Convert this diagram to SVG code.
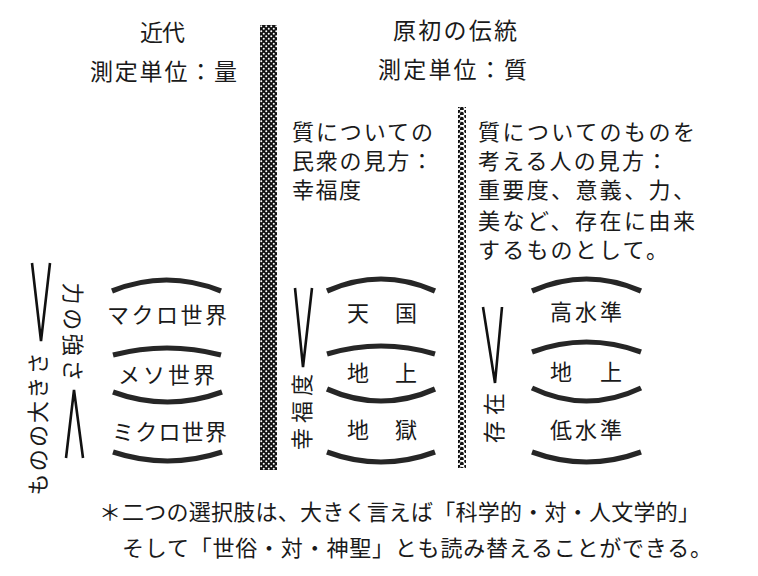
<svg xmlns="http://www.w3.org/2000/svg" width="758" height="576" viewBox="0 0 758 576">
<defs>
<pattern id="chk" width="5" height="5" patternUnits="userSpaceOnUse">
<rect width="5" height="5" fill="#111"/>
<circle cx="1.25" cy="1.25" r="1.0" fill="#fff"/>
<circle cx="3.75" cy="3.75" r="1.0" fill="#fff"/>
</pattern>
<pattern id="chk2" width="8" height="5" patternUnits="userSpaceOnUse">
<rect width="8" height="5" fill="#fff"/>
<circle cx="2.2" cy="1.25" r="2" fill="#111"/>
<circle cx="5.8" cy="3.75" r="2" fill="#111"/>
</pattern>
<style>
text{font-family:"Noto Sans CJK JP","Noto Sans CJK SC",sans-serif;font-size:22px;fill:#1a1a1a}
.hd{font-size:23px}
.arc{fill:none;stroke:#262626;stroke-width:5.2}
.v{fill:none;stroke:#111;stroke-width:2.6;stroke-linejoin:miter}
.bar{fill:url(#chk)}
</style>
</defs>
<rect width="758" height="576" fill="#fff"/>

<g id="header-modern">
<text class="hd" x="140" y="41" textLength="45" lengthAdjust="spacing">近代</text>
<text class="hd" x="90" y="80" textLength="147" lengthAdjust="spacing">測定単位：量</text>
</g>
<g id="header-tradition">
<text class="hd" x="393" y="39" textLength="124" lengthAdjust="spacing">原初の伝統</text>
<text class="hd" x="378" y="78" textLength="149" lengthAdjust="spacing">測定単位：質</text>
</g>

<g id="dividers">
<rect class="bar" x="260" y="25" width="17" height="445"/>
<rect x="458" y="107" width="8" height="361" fill="url(#chk2)"/>
</g>

<g id="popular-view">
<text x="292" y="140" textLength="141" lengthAdjust="spacing">質についての</text>
<text x="292" y="169" textLength="141" lengthAdjust="spacing">民衆の見方：</text>
<text x="292" y="198" textLength="69" lengthAdjust="spacing">幸福度</text>
</g>
<g id="thinker-view">
<text x="478" y="140" textLength="217" lengthAdjust="spacing">質についてのものを</text>
<text x="478" y="169" textLength="190" lengthAdjust="spacing">考える人の見方：</text>
<text x="478" y="198" textLength="217" lengthAdjust="spacing">重要度、意義、力、</text>
<text x="478" y="229" textLength="217" lengthAdjust="spacing">美など、存在に由来</text>
<text x="478" y="258" textLength="190" lengthAdjust="spacing">するものとして。</text>
</g>

<g id="modern-scale">
<path class="arc" d="M112,291 Q166.5,269 221,291"/>
<path class="arc" d="M113,355 Q167,341 221,355"/>
<path class="arc" d="M113,392 Q167.5,412 222,392"/>
<path class="arc" d="M113,452 Q167.5,470 222,452"/>
<text x="107" y="323" textLength="120" lengthAdjust="spacing">マクロ世界</text>
<text x="118" y="383" textLength="97" lengthAdjust="spacing">メソ世界</text>
<text x="112" y="440" textLength="115" lengthAdjust="spacing">ミクロ世界</text>
<text transform="translate(38,424) rotate(-90)" x="0" y="8" text-anchor="middle" textLength="143" lengthAdjust="spacing">ものの大きさ</text>
<text transform="translate(73,332) rotate(90)" x="0" y="8" text-anchor="middle" textLength="99" lengthAdjust="spacing">力の強さ</text>
</g>

<g id="popular-scale">
<path class="arc" d="M327,291 Q381,267 435,291"/>
<path class="arc" d="M327,354 Q381,338 435,354"/>
<path class="arc" d="M327,389 Q381,413 435,389"/>
<path class="arc" d="M327,452 Q381,472 435,452"/>
<text x="347" y="321" textLength="70" lengthAdjust="spacing">天　国</text>
<text x="347" y="381" textLength="70" lengthAdjust="spacing">地　上</text>
<text x="347" y="438" textLength="70" lengthAdjust="spacing">地　獄</text>
<text transform="translate(302,412) rotate(-90)" x="0" y="8" text-anchor="middle" textLength="76" lengthAdjust="spacing">幸福度</text>
</g>

<g id="thinker-scale">
<path class="arc" d="M532,291 Q586.5,267 641,291"/>
<path class="arc" d="M532,352 Q586.5,332 641,352"/>
<path class="arc" d="M532,388 Q586.5,414 641,388"/>
<path class="arc" d="M532,452 Q586.5,472 641,452"/>
<text x="550" y="320" textLength="72" lengthAdjust="spacing">高水準</text>
<text x="550" y="380" textLength="72" lengthAdjust="spacing">地　上</text>
<text x="550" y="438" textLength="72" lengthAdjust="spacing">低水準</text>
<text transform="translate(494,418) rotate(-90)" x="0" y="8" text-anchor="middle" textLength="50" lengthAdjust="spacing">存在</text>
</g>

<g id="connectors">
<path class="v" d="M32,263 L41,341 L50,263"/>
<path class="v" d="M66,458 L74,390 L83,458"/>
<path class="v" d="M295,288 L303,367 L312,288"/>
<path class="v" d="M483,307 L495,383 L502,307"/>
</g>

<g id="footnote">
<text x="99" y="520">＊</text>
<text x="122" y="520" textLength="578" lengthAdjust="spacing">二つの選択肢は、大きく言えば「科学的・対・人文学的」</text>
<text x="122" y="556" textLength="590" lengthAdjust="spacing">そして「世俗・対・神聖」とも読み替えることができる。</text>
</g>
</svg>
